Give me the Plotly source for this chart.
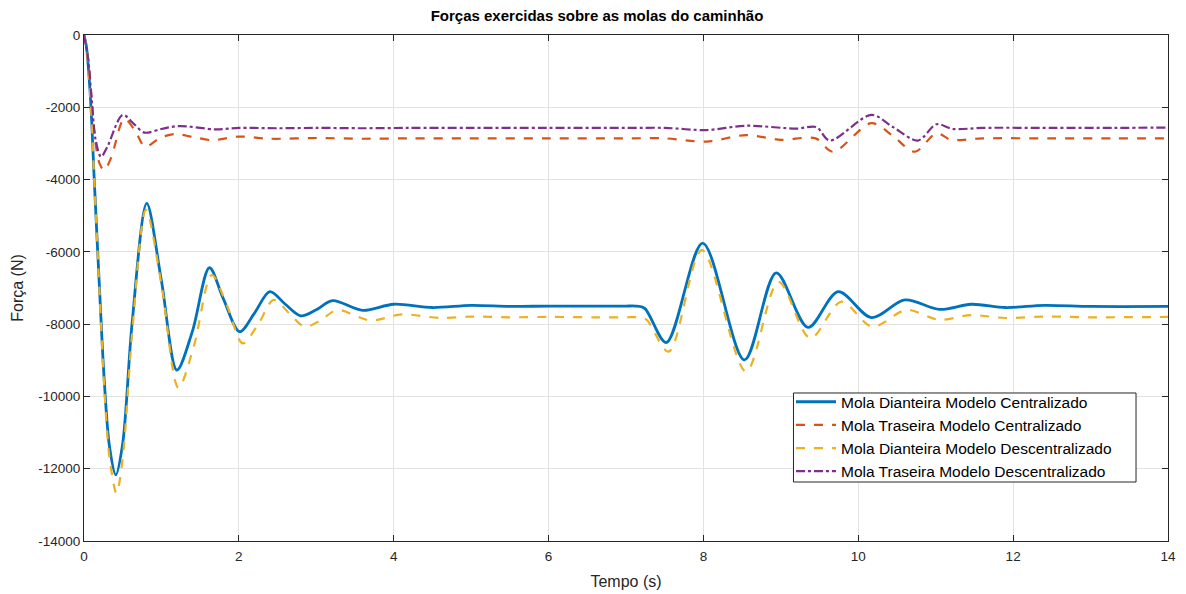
import plotly.graph_objects as go

# ---- data ----
t_dc = [0, 0.03, 0.07, 0.10, 0.13, 0.20, 0.26, 0.33, 0.41, 0.50, 0.62, 0.81, 1.0, 1.20, 1.40, 1.62, 1.80,
        2.01, 2.20, 2.40, 2.60, 2.80, 3.0, 3.21, 3.60, 4.0, 4.5, 5.0, 5.5, 6.0, 6.6, 7.0, 7.12, 7.24, 7.52, 7.99,
        8.53, 8.94, 9.35, 9.74, 10.17, 10.60, 11.05, 11.46, 11.90, 12.40, 13.0, 14.0]
f_dc = [0, -300, -1300, -2400, -3900, -7000, -9500, -11400, -12170, -11300, -8000, -4660, -6800, -9270, -8200,
        -6440, -7300, -8210, -7700, -7100, -7450, -7770, -7600, -7350, -7620, -7450, -7540, -7480, -7510, -7500,
        -7500, -7500, -7500, -7560, -8510, -5760, -8990, -6580, -8090, -7100, -7820, -7330, -7590, -7450, -7540,
        -7480, -7510, -7510]

t_dd = [0, 0.03, 0.07, 0.10, 0.13, 0.20, 0.26, 0.33, 0.42, 0.50, 0.62, 0.80, 1.0, 1.22, 1.42, 1.65, 1.85,
        2.05, 2.25, 2.45, 2.65, 2.85, 3.05, 3.27, 3.70, 4.10, 4.6, 5.0, 5.5, 6.0, 6.6, 7.0, 7.14, 7.26, 7.55, 7.98,
        8.55, 8.97, 9.38, 9.78, 10.18, 10.62, 11.05, 11.45, 11.90, 12.40, 13.0, 14.0]
f_dd = [0, -300, -1300, -2400, -3900, -7100, -9700, -11700, -12680, -11700, -8300, -4840, -6900, -9760, -8600,
        -6640, -7500, -8530, -8000, -7330, -7700, -8070, -7900, -7610, -7900, -7730, -7830, -7790, -7810, -7800,
        -7810, -7810, -7810, -7870, -8760, -5950, -9310, -6830, -8390, -7380, -8070, -7610, -7880, -7750, -7830,
        -7790, -7810, -7800]

t_tc = [0, 0.05, 0.10, 0.15, 0.20, 0.26, 0.35, 0.52, 0.66, 0.79, 0.98, 1.17, 1.40, 1.66, 2.0, 2.4, 3.0, 3.6,
        4.2, 5.0, 6.0, 7.0, 7.5, 8.04, 8.55, 9.0, 9.45, 9.67, 10.17, 10.45, 10.73, 11.01, 11.20, 11.6, 12.5,
        13.3, 14.0]
f_tc = [0, -600, -1800, -3000, -3550, -3740, -3400, -2320, -2650, -3090, -2850, -2740, -2820, -2910, -2810,
        -2870, -2850, -2870, -2860, -2860, -2860, -2860, -2860, -2950, -2770, -2900, -2860, -3230, -2440,
        -2800, -3230, -2720, -2900, -2860, -2860, -2860, -2860]

t_td = [0, 0.05, 0.10, 0.15, 0.22, 0.30, 0.50, 0.64, 0.78, 1.0, 1.23, 1.70, 2.0, 2.5, 3.0, 3.6, 4.2, 5.0,
        6.0, 7.0, 7.5, 8.04, 8.55, 9.2, 9.46, 9.63, 10.17, 10.45, 10.77, 11.01, 11.22, 11.6, 12.5, 13.3, 14.0]
f_td = [0, -600, -1800, -2900, -3370, -3100, -2210, -2450, -2700, -2600, -2520, -2610, -2570, -2580, -2570,
        -2580, -2570, -2570, -2570, -2570, -2570, -2630, -2510, -2590, -2550, -2920, -2210, -2550, -2920,
        -2470, -2600, -2570, -2570, -2570, -2560]

names = ["Mola Dianteira Modelo Centralizado", "Mola Traseira Modelo Centralizado",
         "Mola Dianteira Modelo Descentralizado", "Mola Traseira Modelo Descentralizado"]

x_ticks = [0, 2, 4, 6, 8, 10, 12, 14]
y_ticks = [0, -2000, -4000, -6000, -8000, -10000, -12000, -14000]
y_tick_text = ["0", "-2000", "-4000", "-6000", "-8000", "-10000", "-12000", "-14000"]

FONT = "Liberation Sans, Arial"

fig = go.Figure()
series = [
    (t_dc, f_dc, "#0072BD", "solid", 2.8),
    (t_tc, f_tc, "#D95319", "dash", 2.2),
    (t_dd, f_dd, "#EDB120", "dash", 2.2),
    (t_td, f_td, "#7E2F8E", "dashdot", 2.2),
]
for (x, y, c, d, w), n in zip(series, names):
    fig.add_trace(go.Scatter(x=x, y=y, mode="lines", name=n,
                             line=dict(color=c, dash=d, width=w, shape="spline", smoothing=0.9)))

axis_common = dict(showline=True, linecolor="#262626", linewidth=1, mirror="ticks",
                   ticks="inside", ticklen=6, tickcolor="#262626", automargin=False,
                   showgrid=True, gridcolor="#e3e3e3", gridwidth=1, zeroline=False,
                   tickfont=dict(family=FONT, size=13.5, color="#262626"))

fig.update_xaxes(range=[0, 14], tickvals=x_ticks, ticklabelstandoff=3,
                 title=dict(text="Tempo (s)", font=dict(family=FONT, size=16, color="#262626"),
                            standoff=12),
                 **axis_common)
fig.update_yaxes(range=[-14000, 0], tickvals=y_ticks, ticktext=y_tick_text,
                 title=dict(text="Força (N)", font=dict(family=FONT, size=16, color="#262626"),
                            standoff=10),
                 **axis_common)

# legend frame (opaque white box with a dark border, drawn above the curves)
fig.add_shape(type="rect", xref="paper", yref="paper", layer="above",
              x0=0.6545, x1=0.9705, y0=0.1166, y1=0.2925,
              line=dict(color="#262626", width=1), fillcolor="white")

# the page body has an 8px margin, so the figure is sized to fit inside the window
fig.update_layout(
    width=1178, height=586,
    margin=dict(l=76, r=18, t=27, b=53),
    paper_bgcolor="white", plot_bgcolor="white",
    title=dict(text="<b>Forças exercidas sobre as molas do caminhão</b>", x=0.5, xanchor="center",
               y=0.987, yanchor="middle",
               font=dict(family=FONT, size=15, color="#000000")),
    legend=dict(x=0.6522, y=0.308, xanchor="left", yanchor="top",
                bgcolor="rgba(0,0,0,0)", borderwidth=0, itemwidth=40,
                font=dict(family=FONT, size=15.5, color="#000000"),
                tracegroupgap=0),
    showlegend=True,
)

fig.write_html("out.html")
